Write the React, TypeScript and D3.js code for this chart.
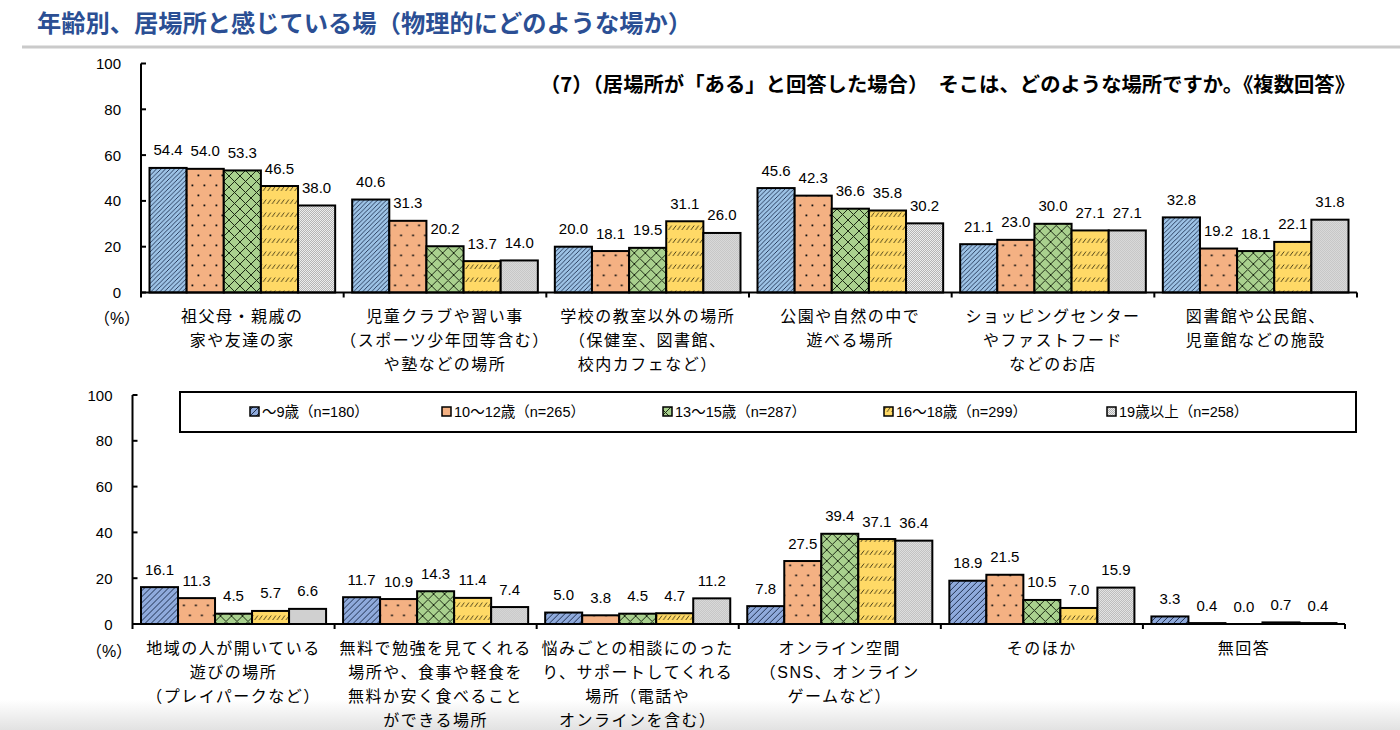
import React from "react";
import * as d3 from "d3";

// ---------------- DATA ----------------
const SERIES = [
  "〜9歳（n=180）",
  "10〜12歳（n=265）",
  "13〜15歳（n=287）",
  "16〜18歳（n=299）",
  "19歳以上（n=258）",
];

const TOP_CATEGORIES = [
  ["祖父母・親戚の", "家や友達の家"],
  ["児童クラブや習い事", "（スポーツ少年団等含む）", "や塾などの場所"],
  ["学校の教室以外の場所", "（保健室、図書館、", "校内カフェなど）"],
  ["公園や自然の中で", "遊べる場所"],
  ["ショッピングセンター", "やファストフード", "などのお店"],
  ["図書館や公民館、", "児童館などの施設"],
];
const TOP_AGE_9 = [54.4, 40.6, 20.0, 45.6, 21.1, 32.8];
const TOP_AGE_10_12 = [54.0, 31.3, 18.1, 42.3, 23.0, 19.2];
const TOP_AGE_13_15 = [53.3, 20.2, 19.5, 36.6, 30.0, 18.1];
const TOP_AGE_16_18 = [46.5, 13.7, 31.1, 35.8, 27.1, 22.1];
const TOP_AGE_19 = [38.0, 14.0, 26.0, 30.2, 27.1, 31.8];

const BOTTOM_CATEGORIES = [
  ["地域の人が開いている", "遊びの場所", "（プレイパークなど）"],
  ["無料で勉強を見てくれる", "場所や、食事や軽食を", "無料か安く食べること", "ができる場所"],
  ["悩みごとの相談にのった", "り、サポートしてくれる", "場所（電話や", "オンラインを含む）"],
  ["オンライン空間", "（SNS、オンライン", "ゲームなど）"],
  ["そのほか"],
  ["無回答"],
];
const BOTTOM_AGE_9 = [16.1, 11.7, 5.0, 7.8, 18.9, 3.3];
const BOTTOM_AGE_10_12 = [11.3, 10.9, 3.8, 27.5, 21.5, 0.4];
const BOTTOM_AGE_13_15 = [4.5, 14.3, 4.5, 39.4, 10.5, 0.0];
const BOTTOM_AGE_16_18 = [5.7, 11.4, 4.7, 37.1, 7.0, 0.7];
const BOTTOM_AGE_19 = [6.6, 7.4, 11.2, 36.4, 15.9, 0.4];

const Y_TICKS = [0, 20, 40, 60, 80, 100];

const TITLE = "年齢別、居場所と感じている場（物理的にどのような場か）";
const SUBTITLE = "（7）（居場所が「ある」と回答した場合）　そこは、どのような場所ですか。《複数回答》";

// ---------------- STYLE ----------------
const NUM_FONT = "'Liberation Sans', Arial, 'Noto Sans CJK JP', sans-serif";
const JP_FONT = "'Noto Sans CJK JP', 'Liberation Sans', sans-serif";

function Patterns() {
  return (
    <defs>
      <pattern id="p0a" patternUnits="userSpaceOnUse" width="4.5" height="4.5">
        <rect width="4.5" height="4.5" fill="#9DC3E6" />
        <path d="M-1,1 L1,-1 M0,4.5 L4.5,0 M3.5,5.5 L5.5,3.5" stroke="#1F3050" strokeWidth="0.9" />
      </pattern>
      <pattern id="p0b" patternUnits="userSpaceOnUse" width="6" height="6">
        <rect width="6" height="6" fill="#8FAADC" />
        <path d="M-1,1 L1,-1 M0,6 L6,0 M5,7 L7,5" stroke="#1F3050" strokeWidth="1" />
      </pattern>
      <pattern id="p1" patternUnits="userSpaceOnUse" width="12" height="20">
        <rect width="12" height="20" fill="#F4B183" />
        <rect x="2.5" y="4.5" width="1.8" height="1.8" fill="#111" />
        <rect x="8.5" y="14.5" width="1.8" height="1.8" fill="#111" />
      </pattern>
      <pattern id="p2" patternUnits="userSpaceOnUse" width="11" height="11">
        <rect width="11" height="11" fill="#A9D18E" />
        <path d="M0,0 L11,11 M11,0 L0,11" stroke="#1c2a14" strokeWidth="1" />
      </pattern>
      <pattern id="p3" patternUnits="userSpaceOnUse" width="4.5" height="13">
        <rect width="4.5" height="13" fill="#FFD966" />
        <path d="M0.6,9 L3.8,4.5" stroke="#3a3010" strokeWidth="0.9" />
      </pattern>
      <pattern id="p4" patternUnits="userSpaceOnUse" width="2" height="2">
        <rect width="2" height="2" fill="#ececec" />
        <rect x="0" y="0" width="1" height="1" fill="#b4b4b4" />
        <rect x="1" y="1" width="1" height="1" fill="#b4b4b4" />
      </pattern>
      <linearGradient id="bottomFade" x1="0" y1="0" x2="0" y2="1">
        <stop offset="0" stopColor="#ffffff" />
        <stop offset="1" stopColor="#e2e2e2" />
      </linearGradient>
    </defs>
  );
}

type PanelProps = {
  axisX: number;
  endX: number;
  zeroY: number;
  topY: number;
  categories: string[][];
  values: number[][];
  blueId: string;
  pctX: number;
  pctY: number;
};

function Panel({ axisX, endX, zeroY, topY, categories, values, blueId, pctX, pctY }: PanelProps) {
  const y = d3.scaleLinear().domain([0, 100]).range([zeroY, topY]);
  const catIdx = categories.map((_, i) => String(i));
  const x0 = d3.scaleBand().domain(catIdx).range([axisX, endX]).padding(0);
  const x1 = d3
    .scaleBand()
    .domain(SERIES)
    .range([8.5, x0.bandwidth() - 8.5])
    .padding(0);
  const fills = [`url(#${blueId})`, "url(#p1)", "url(#p2)", "url(#p3)", "url(#p4)"];

  return (
    <g>
      {categories.map((_, ci) => (
        <g key={ci} transform={`translate(${x0(String(ci))},0)`}>
          {SERIES.map((s, si) => {
            const v = values[si][ci];
            const bx = x1(s)!;
            const by = y(v);
            return (
              <g key={s}>
                <rect
                  x={bx}
                  y={by}
                  width={x1.bandwidth()}
                  height={zeroY - by}
                  fill={fills[si]}
                  stroke="#000"
                  strokeWidth={2}
                />
                <text
                  x={bx + x1.bandwidth() / 2}
                  y={by - 18}
                  textAnchor="middle"
                  dominantBaseline="central"
                  fontFamily={NUM_FONT}
                  fontSize={15}
                  fill="#000"
                >
                  {v.toFixed(1)}
                </text>
              </g>
            );
          })}
        </g>
      ))}
      <line x1={axisX} x2={axisX} y1={topY} y2={zeroY + 5} stroke="#000" strokeWidth={2} />
      {Y_TICKS.map((t) => (
        <g key={t}>
          <line x1={axisX} x2={axisX + 5} y1={y(t)} y2={y(t)} stroke="#000" strokeWidth={2} />
          <text
            x={axisX - 20}
            y={y(t)}
            textAnchor="end"
            dominantBaseline="central"
            fontFamily={NUM_FONT}
            fontSize={15}
            fill="#000"
          >
            {t}
          </text>
        </g>
      ))}
      <line x1={axisX} x2={endX} y1={zeroY} y2={zeroY} stroke="#000" strokeWidth={2} />
      {categories.map((_, ci) => {
        const bx = x0(String(ci))! + x0.bandwidth();
        return <line key={ci} x1={bx} x2={bx} y1={zeroY} y2={zeroY + 5} stroke="#000" strokeWidth={2} />;
      })}
      {categories.map((lines, ci) => (
        <text
          key={ci}
          textAnchor="middle"
          fontFamily={NUM_FONT}
          fontSize={16}
          letterSpacing={1.5}
          fill="#000"
        >
          {lines.map((ln, li) => (
            <tspan
              key={li}
              x={x0(String(ci))! + x0.bandwidth() / 2}
              y={zeroY + 24 + li * 24}
              dominantBaseline="central"
            >
              {ln}
            </tspan>
          ))}
        </text>
      ))}
      <text
        x={pctX}
        y={pctY}
        textAnchor="middle"
        dominantBaseline="central"
        fontFamily={NUM_FONT}
        fontSize={16}
        fill="#000"
      >
        （%）
      </text>
    </g>
  );
}

const LEGEND_X = [250, 442, 663, 884, 1107];

export default function App() {
  const topValues = [TOP_AGE_9, TOP_AGE_10_12, TOP_AGE_13_15, TOP_AGE_16_18, TOP_AGE_19];
  const bottomValues = [BOTTOM_AGE_9, BOTTOM_AGE_10_12, BOTTOM_AGE_13_15, BOTTOM_AGE_16_18, BOTTOM_AGE_19];
  const legendFills = ["url(#p0b)", "url(#p1)", "url(#p2)", "url(#p3)", "url(#p4)"];

  return (
    <svg
      width={1400}
      height={730}
      style={{ position: "absolute", left: 0, top: 0, background: "#fff" }}
    >
      <Patterns />
      <rect x={0} y={0} width={1400} height={730} fill="#fff" />
      <rect x={0} y={700} width={1400} height={30} fill="url(#bottomFade)" />

      <text
        x={37}
        y={21}
        dominantBaseline="central"
        fontFamily={JP_FONT}
        fontWeight="bold"
        fontSize={24}
        fill="#2B4F94"
        textLength={655}
        lengthAdjust="spacingAndGlyphs"
      >
        {TITLE}
      </text>
      <line x1={22} x2={1400} y1={47} y2={47} stroke="#cacaca" strokeWidth={3} />

      <text
        x={540}
        y={83}
        dominantBaseline="central"
        fontFamily={JP_FONT}
        fontWeight="bold"
        fontSize={20}
        fill="#000"
        textLength={815}
        lengthAdjust="spacingAndGlyphs"
      >
        {SUBTITLE}
      </text>

      <Panel
        axisX={141}
        endX={1357}
        zeroY={292.5}
        topY={63.5}
        categories={TOP_CATEGORIES}
        values={topValues}
        blueId="p0a"
        pctX={117}
        pctY={318}
      />
      <Panel
        axisX={132.5}
        endX={1345}
        zeroY={624}
        topY={395}
        categories={BOTTOM_CATEGORIES}
        values={bottomValues}
        blueId="p0b"
        pctX={109}
        pctY={651}
      />

      <rect x={180} y={392} width={1176} height={40} fill="#fff" stroke="#000" strokeWidth={2} />
      {SERIES.map((s, i) => (
        <g key={s}>
          <rect x={LEGEND_X[i]} y={407} width={9} height={9} fill={legendFills[i]} stroke="#000" strokeWidth={1.5} />
          <text
            x={LEGEND_X[i] + 12}
            y={412}
            dominantBaseline="central"
            fontFamily={NUM_FONT}
            fontSize={14.5}
            fill="#000"
          >
            {s}
          </text>
        </g>
      ))}
    </svg>
  );
}
